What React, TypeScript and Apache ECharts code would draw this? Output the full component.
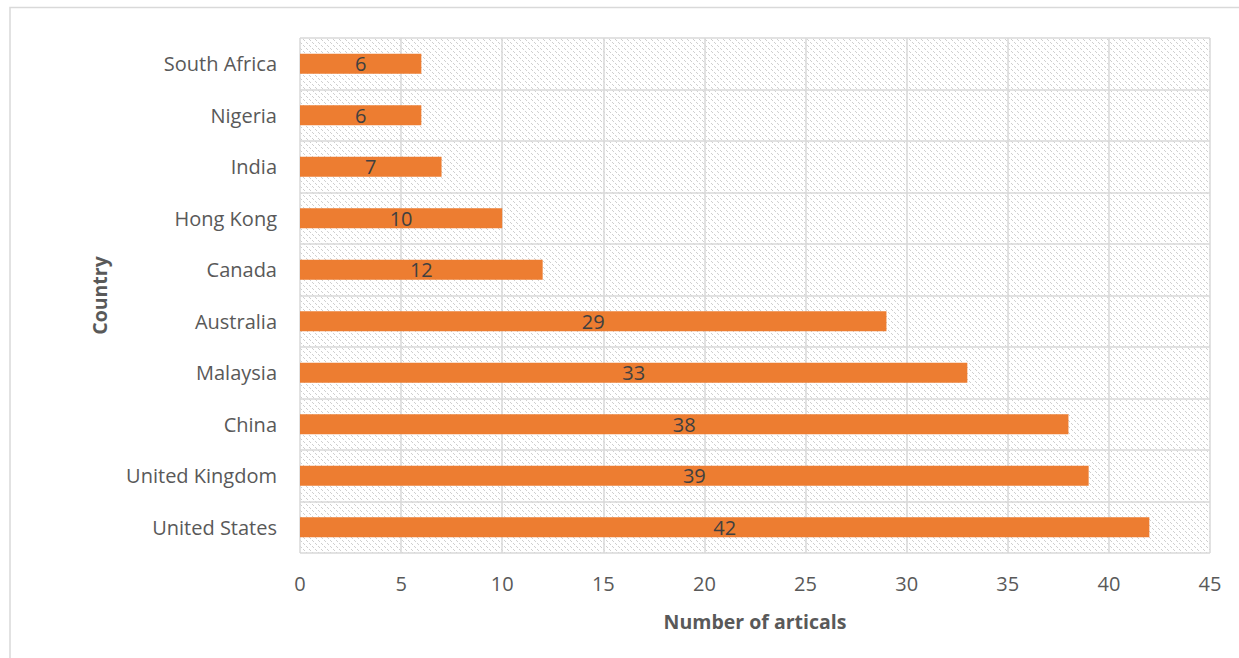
import React, { useEffect, useRef } from "react";
import * as echarts from "echarts";

const categories = [
  "South Africa",
  "Nigeria",
  "India",
  "Hong Kong",
  "Canada",
  "Australia",
  "Malaysia",
  "China",
  "United Kingdom",
  "United States",
];
const articles = [6, 6, 7, 10, 12, 29, 33, 38, 39, 42];

const FONT = "'Open Sans', sans-serif";

function makeHatch(): HTMLCanvasElement {
  const c = document.createElement("canvas");
  c.width = 6;
  c.height = 6;
  const ctx = c.getContext("2d")!;
  ctx.fillStyle = "#ffffff";
  ctx.fillRect(0, 0, 6, 6);
  ctx.fillStyle = "#cfcfcf";
  [0, 1, 3, 4].forEach((i) => ctx.fillRect(i, i, 1, 1));
  return c;
}

export default function App() {
  const ref = useRef<HTMLDivElement>(null);
  useEffect(() => {
    document.body.style.margin = "0";
    const chart = echarts.init(ref.current!, null, { renderer: "svg" });
    const hatch = makeHatch();
    chart.setOption({
      animation: false,
      textStyle: { fontFamily: FONT },
      graphic: [
        {
          type: "rect",
          shape: { x: 10, y: 7.5, width: 1400, height: 800 },
          style: { fill: "none", stroke: "#d9d9d9", lineWidth: 1.5 },
          silent: true,
          z: -10,
        },
      ],
      grid: {
        left: 300,
        right: 29,
        top: 38,
        bottom: 105,
        show: true,
        borderWidth: 0,
        backgroundColor: { image: hatch, repeat: "repeat" },
      },
      xAxis: {
        type: "value",
        min: 0,
        max: 45,
        interval: 5,
        name: "Number of articals",
        nameLocation: "middle",
        nameGap: 58,
        nameTextStyle: {
          fontFamily: FONT,
          fontSize: 19.5,
          fontWeight: "bold",
          color: "#595959",
        },
        axisLine: { show: false },
        axisTick: { show: false },
        axisLabel: { fontFamily: FONT, fontSize: 20, color: "#595959", margin: 20 },
        splitLine: { show: true, lineStyle: { color: "#d9d9d9", width: 1.5 } },
      },
      yAxis: {
        type: "category",
        data: categories,
        inverse: true,
        name: "Country",
        nameLocation: "middle",
        nameGap: 191,
        nameRotate: 90,
        nameTextStyle: {
          fontFamily: FONT,
          fontSize: 19.5,
          fontWeight: "bold",
          color: "#595959",
        },
        axisLine: { show: false },
        axisTick: { show: false },
        axisLabel: { fontFamily: FONT, fontSize: 20, color: "#595959", margin: 23 },
        splitLine: { show: true, lineStyle: { color: "#d9d9d9", width: 1.5 } },
      },
      series: [
        {
          type: "bar",
          data: articles,
          barWidth: 20,
          itemStyle: { color: "#ed7d31" },
          label: {
            show: true,
            position: "inside",
            fontFamily: FONT,
            fontSize: 20,
            color: "#404040",
          },
        },
      ],
    });
    return () => chart.dispose();
  }, []);
  return <div ref={ref} style={{ width: 1239, height: 658 }} />;
}
